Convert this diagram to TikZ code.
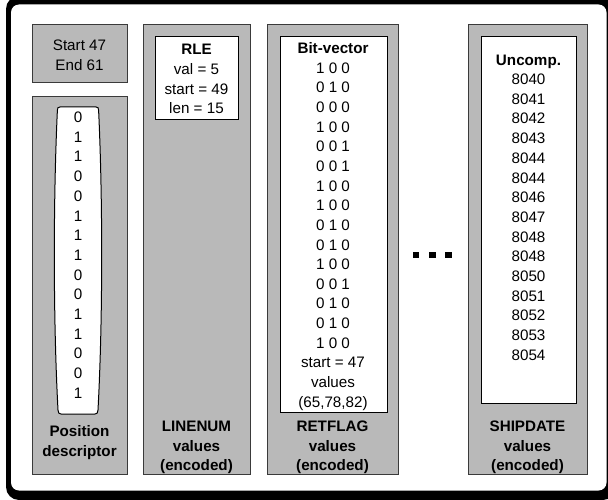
\documentclass[tikz,border=0pt]{standalone}
\usepackage{fontspec}
\setmainfont{Liberation Sans}
\definecolor{panelgray}{HTML}{B9B9B9}
\definecolor{edgegray}{HTML}{3A3A3A}
\newcommand{\fs}{\fontsize{15.2}{19.6}\selectfont}
\tikzset{
  panel/.style={draw=edgegray, line width=1pt, fill=panelgray},
  whitebox/.style={draw=black, line width=1pt, fill=white},
  txt/.style={font=\fs, inner sep=0pt, text height=11pt, text depth=0pt, anchor=center},
  btxt/.style={txt, font=\fs\bfseries},
  dotsq/.style={fill=black, draw=none, minimum size=6.5pt, inner sep=0pt, rectangle}
}
\begin{document}
\begin{tikzpicture}[x=1pt,y=-1pt]
\useasboundingbox (0,0) rectangle (608,500);
% outer frame
\fill[black, rounded corners=13pt] (6,-4) rectangle (616,500);
\fill[white, rounded corners=8pt] (11,4.5) rectangle (606.5,490.5);

% panels
\draw[panel] (32,25) rectangle (127,83);
\node[coordinate] (startbox) at (79.5,54) {};
\draw[panel] (32,97) rectangle (127,474);
\draw[panel] (143,25) rectangle (250,474);
\draw[whitebox] (155,37) rectangle (238,120);
\draw[panel] (267,25) rectangle (398,474);
\draw[whitebox] (280,37) rectangle (387,412);
\draw[panel] (468,25) rectangle (587,474);
\draw[whitebox] (481,37) rectangle (576,403);

% capsule
\draw[whitebox] (60,107) -- (96,107) .. controls (98,107) and (98.6,108) .. (98.6,110)
  .. controls (102.8,200) and (102.8,320) .. (98,410)
  .. controls (97.8,413) and (97,414) .. (95,414) -- (61,414)
  .. controls (59,414) and (58.2,413) .. (58,410)
  .. controls (53.2,320) and (53.2,200) .. (57.4,110)
  .. controls (57.4,108) and (58,107) .. (60,107) -- cycle;

% start/end
\node[txt] (st) at (79.5,45) {Start 47};
\node[txt] (en) at (79.5,65) {End 61};

% position bits
\foreach \b [count=\i from 0] in {0,1,1,0,0,1,1,1,0,0,1,1,0,0,1}
  \node[txt] (pd\i) at (78,117+19.7*\i) {\b};

% RLE
\node[btxt] (rle) at (196.5,49.5) {RLE};
\node[txt] (rv) at (196.5,69.5) {val = 5};
\node[txt] (rs) at (196.5,88.8) {start = 49};
\node[txt] (rl) at (196.5,108) {len = 15};

% bit-vector
\node[btxt] (bvh) at (333,48) {Bit-vector};
\foreach \r [count=\i from 1] in {1 0 0,0 1 0,0 0 0,1 0 0,0 0 1,0 0 1,1 0 0,1 0 0,0 1 0,0 1 0,1 0 0,0 0 1,0 1 0,0 1 0,1 0 0}
  \node[txt] (bv\i) at (333,48+19.65*\i) {\r};
\node[txt] (bvs) at (333,48+19.65*16) {start = 47};
\node[txt] (bvv) at (333,48+19.65*17) {values};
\node[txt] (bvl) at (333,48+19.65*18) {(65,78,82)};

% uncompressed
\node[btxt] (unh) at (528.5,60) {Uncomp.};
\foreach \v [count=\i from 0] in {8040,8041,8042,8043,8044,8044,8046,8047,8048,8048,8050,8051,8052,8053,8054}
  \node[txt] (un\i) at (528.5,79+19.7*\i) {\v};

% dots
\node[dotsq] (d1) at (416,255) {};
\node[dotsq] (d2) at (432.5,255) {};
\node[dotsq] (d3) at (448.5,255) {};

% bottom labels
\node[btxt] (pl1) at (79.5,431) {Position};
\node[btxt] (pl2) at (79.5,450.5) {descriptor};
\node[btxt] (ll1) at (196.5,426) {LINENUM};
\node[btxt] (ll2) at (196.5,445.5) {values};
\node[btxt] (ll3) at (196.5,465) {(encoded)};
\node[btxt] (fl1) at (332.5,426) {RETFLAG};
\node[btxt] (fl2) at (332.5,445.5) {values};
\node[btxt] (fl3) at (332.5,465) {(encoded)};
\node[btxt] (sl1) at (527.5,426) {SHIPDATE};
\node[btxt] (sl2) at (527.5,445.5) {values};
\node[btxt] (sl3) at (527.5,465) {(encoded)};
\end{tikzpicture}
\end{document}
